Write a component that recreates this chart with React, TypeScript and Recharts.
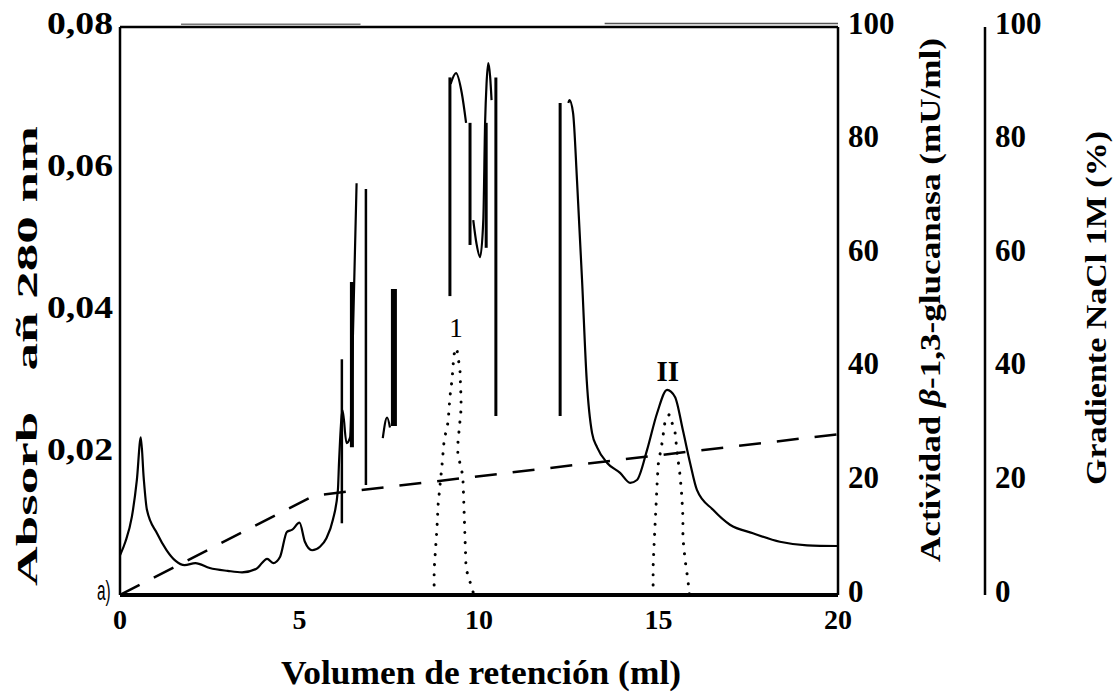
import React from 'react'
import {
  ComposedChart,
  Line,
  XAxis,
  YAxis,
  Label,
  ReferenceLine,
  ReferenceDot,
} from 'recharts'

// Absorbance 280 nm (visible pieces of the trace) [ml, A280]
const absPieceA = [
  [0, 0.0056], [0.15, 0.0075], [0.33, 0.011], [0.47, 0.0162], [0.58, 0.0222],
  [0.66, 0.0165], [0.75, 0.012], [1.03, 0.0087], [1.3, 0.0063], [1.55, 0.0048],
  [1.8, 0.0042], [2.1, 0.0045], [2.5, 0.0038], [3.0, 0.0034], [3.4, 0.0032],
  [3.8, 0.0037], [4.1, 0.0051], [4.27, 0.0045], [4.46, 0.0054], [4.65, 0.0089],
  [4.8, 0.0092], [5.0, 0.0102], [5.15, 0.0075], [5.35, 0.0063], [5.57, 0.0068],
  [5.75, 0.008], [5.93, 0.0106], [6.07, 0.0148], [6.1, 0.0186], [6.13, 0.0218],
  [6.2, 0.026], [6.31, 0.0214], [6.41, 0.0222], [6.49, 0.0369], [6.59, 0.058],
]
const absPieceB = [[7.32, 0.0221], [7.44, 0.025], [7.52, 0.0236]]
const absPieceC = [[9.21, 0.072], [9.36, 0.0735], [9.52, 0.0707], [9.64, 0.0665]]
const absPieceD = [
  [9.84, 0.0528], [9.93, 0.0495], [10.03, 0.0476], [10.12, 0.0528], [10.17, 0.0665],
  [10.21, 0.072], [10.26, 0.0749], [10.31, 0.073], [10.35, 0.0697],
]
const absPieceE = [
  [12.49, 0.0693], [12.52, 0.0697], [12.62, 0.0679], [12.73, 0.0584], [12.87, 0.0444],
  [13.0, 0.0303], [13.15, 0.0228], [13.29, 0.0208], [13.57, 0.0186], [13.93, 0.0172],
  [14.21, 0.0158], [14.4, 0.0162], [14.68, 0.0204], [14.96, 0.0256], [15.24, 0.0289],
  [15.46, 0.0279], [15.68, 0.0232], [15.88, 0.0186], [16.07, 0.0148], [16.52, 0.012],
  [16.99, 0.0099], [17.63, 0.0087], [18.38, 0.0075], [19.14, 0.007], [20, 0.0069],
]

// vertical recorder strokes in the scan [ml, from, to] (A280)
const recorderStrokes = [
  [6.18, 0.0101, 0.0332], [6.46, 0.0208, 0.0441], [6.85, 0.0155, 0.0572],
  [7.63, 0.0238, 0.0431], [9.19, 0.0421, 0.0729], [9.75, 0.0493, 0.0665],
  [10.2, 0.0489, 0.0665], [10.47, 0.0252, 0.0729], [12.26, 0.0252, 0.0693],
]
const strokeWidths = [2.5, 4, 2.5, 6, 3, 3, 3, 3, 3]

// β-1,3-glucanase activity (mU/ml)
const activityPeakI = [
  [8.75, 0], [8.75, 4.4], [8.83, 11.8], [8.86, 15.8], [8.97, 22.9], [9.03, 27.3],
  [9.14, 30.5], [9.19, 34.9], [9.25, 37.9], [9.3, 42.3], [9.38, 43.5], [9.47, 39.6],
  [9.5, 34.5], [9.5, 32.6], [9.41, 26.6], [9.41, 24.8], [9.55, 21], [9.64, 4.6], [9.86, 0],
]
const activityPeakII = [
  [14.85, 0], [14.85, 4.9], [14.87, 7.9], [14.9, 11.8], [14.93, 15.5], [14.96, 19.4],
  [14.99, 22.9], [15.1, 26.8], [15.18, 30.5], [15.3, 31.8], [15.46, 28.7], [15.52, 25],
  [15.6, 21.1], [15.65, 17.3], [15.68, 13.7], [15.68, 10], [15.74, 6.2], [15.82, 2.6], [15.86, 0],
]

// NaCl 1M gradient (%)
const naclGradient = [[0, 0], [5.4, 17.5], [20, 28.3]]

const xTicks = [0, 5, 10, 15, 20]
const absTicks = [0.02, 0.04, 0.06, 0.08]
const pctTicks = [0, 20, 40, 60, 80, 100]

const toRows = (pts: number[][]) => pts.map(([x, y]) => ({ x, y }))

const font = { fontFamily: 'Liberation Serif', fontWeight: 700 }

const LeftTick = ({ x, y, payload }: any) => (
  <text x={x + 1} y={y - 4} textAnchor="end" dominantBaseline="central"
    style={font} fontSize={31} fill="#000" textLength={66} lengthAdjust="spacingAndGlyphs">
    {String(payload.value).replace('.', ',')}
  </text>
)

const RightTick = ({ x, y, payload }: any) => (
  <text x={x + 2} y={y - 4} textAnchor="start" dominantBaseline="central"
    style={font} fontSize={31} fill="#000">
    {payload.value}
  </text>
)

const BottomTick = ({ x, y, payload }: any) => (
  <text x={x} y={y + 16} textAnchor="middle" dominantBaseline="central"
    style={font} fontSize={28} fill="#000">
    {payload.value}
  </text>
)

const rotatedTitle = (cx: number, cy: number, len: number, children: React.ReactNode) => () => (
  <text x={cx} y={cy} transform={`rotate(-90 ${cx} ${cy})`} textAnchor="middle"
    dominantBaseline="central" style={font} fontSize={29}
    fill="#000" textLength={len} lengthAdjust="spacingAndGlyphs">
    {children}
  </text>
)

const PeakLabel = ({ viewBox, text, size, weight }: any) => {
  const cx = viewBox.x + viewBox.width / 2
  const cy = viewBox.y + viewBox.height / 2
  return (
    <text x={cx} y={cy} textAnchor="middle" dominantBaseline="central"
      style={{ fontFamily: 'Liberation Serif', fontWeight: weight }} fontSize={size} fill="#000">
      {text}
    </text>
  )
}

export default function App() {
  return (
    <div style={{ position: 'absolute', left: 0, top: 0, width: 1113, height: 693, background: '#fff' }}>
      <ComposedChart width={1113} height={693} margin={{ top: 27, right: 0, bottom: 0, left: 0 }}>
        <XAxis dataKey="x" type="number" domain={[0, 20]} ticks={xTicks} height={98}
          axisLine={{ stroke: '#000', strokeWidth: 4 }} tickLine={false} tick={<BottomTick />}
          allowDataOverflow>
          <Label content={() => (
            <text x={481} y={673} textAnchor="middle" dominantBaseline="central"
              style={font} fontSize={33} fill="#000"
              textLength={400} lengthAdjust="spacingAndGlyphs">
              Volumen de retención (ml)
            </text>
          )} />
        </XAxis>
        <YAxis yAxisId="abs" domain={[0, 0.08]} ticks={absTicks} width={120}
          axisLine={{ stroke: '#000', strokeWidth: 2.5 }} tickLine={false} tick={<LeftTick />}
          allowDataOverflow>
          <Label content={rotatedTitle(27, 356, 460, 'Absorb\u00a0\u00a0\u00a0añ 280 nm')} />
        </YAxis>
        <YAxis yAxisId="act" orientation="right" domain={[0, 100]} ticks={pctTicks} width={147}
          axisLine={{ stroke: '#000', strokeWidth: 2.5 }} tickLine={false} tick={<RightTick />}>
          <Label content={rotatedTitle(930, 300, 524, (
            <>Actividad <tspan fontStyle="italic">β</tspan>-1,3-glucanasa (mU/ml)</>
          ))} />
        </YAxis>
        <YAxis yAxisId="nacl" orientation="right" domain={[0, 100]} ticks={pctTicks} width={128}
          axisLine={{ stroke: '#000', strokeWidth: 2.5 }} tickLine={false} tick={<RightTick />}>
          <Label content={rotatedTitle(1096, 308, 354, 'Gradiente NaCl 1M (%)')} />
        </YAxis>

        {/* top frame and the faint doubled edge of the scan */}
        <ReferenceLine yAxisId="abs" y={0.08} stroke="#000" strokeWidth={2.5} />
        <ReferenceLine yAxisId="abs" ifOverflow="visible" stroke="#777" strokeWidth={1.5}
          segment={[{ x: 1.7, y: 0.0804 }, { x: 6.7, y: 0.0804 }]} />
        <ReferenceLine yAxisId="abs" ifOverflow="visible" stroke="#555" strokeWidth={1.5}
          segment={[{ x: 13.5, y: 0.0805 }, { x: 20, y: 0.0805 }]} />

        {recorderStrokes.map(([x, y1, y2], i) => (
          <ReferenceLine key={i} yAxisId="abs" stroke="#000" strokeWidth={strokeWidths[i]}
            segment={[{ x, y: y1 }, { x, y: y2 }]} />
        ))}

        {[absPieceA, absPieceB, absPieceC, absPieceD, absPieceE].map((piece, i) => (
          <Line key={i} yAxisId="abs" data={toRows(piece)} dataKey="y" type="monotone"
            stroke="#000" strokeWidth={2.2} dot={false} isAnimationActive={false} />
        ))}

        <Line yAxisId="nacl" data={toRows(naclGradient)} dataKey="y" type="linear"
          stroke="#000" strokeWidth={2.5} strokeDasharray="22 16" dot={false}
          isAnimationActive={false} />

        {[activityPeakI, activityPeakII].map((peak, i) => (
          <Line key={i} yAxisId="act" data={toRows(peak)} dataKey="y" type="linear"
            stroke="#000" strokeWidth={3} strokeDasharray="0.1 10" strokeLinecap="round"
            dot={false} isAnimationActive={false} />
        ))}

        <ReferenceDot yAxisId="act" x={9.36} y={47} r={0} fill="none" stroke="none"
          label={<PeakLabel text="1" size={27} weight={400} />} />
        <ReferenceDot yAxisId="act" x={15.26} y={39.5} r={0} fill="none" stroke="none"
          label={<PeakLabel text="II" size={29} weight={700} />} />
      </ComposedChart>
      <span style={{
        position: 'absolute', left: 97, top: 577, fontFamily: 'Liberation Sans', fontSize: 28,
        transform: 'scaleX(0.55)', transformOrigin: 'left top', lineHeight: 1,
      }}>a)</span>
    </div>
  )
}
